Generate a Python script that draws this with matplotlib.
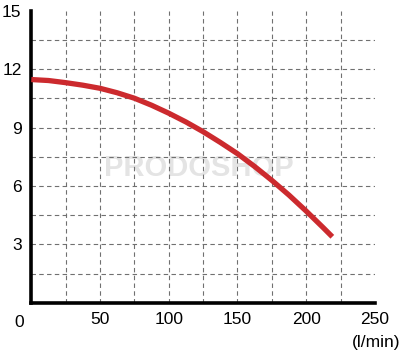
import matplotlib.pyplot as plt
import numpy as np

plt.rcParams['font.family'] = ['Liberation Sans', 'DejaVu Sans']

# pump curve
flow = [0, 12.5, 25, 37.5, 50, 62.5, 75, 87.5, 100, 112.5, 125, 137.5,
        150, 162.5, 175, 187.5, 200, 212.5, 219]
head = [11.47, 11.42, 11.31, 11.18, 11.02, 10.79, 10.51, 10.15, 9.74, 9.29,
        8.79, 8.24, 7.66, 7.0, 6.29, 5.53, 4.71, 3.85, 3.39]

x_ticks = [50, 100, 150, 200, 250]
y_ticks = [3, 6, 9, 12, 15]
x_grid = [25, 50, 75, 100, 125, 150, 175, 200, 225]
y_grid = [1.5, 3, 4.5, 6, 7.5, 9, 10.5, 12, 13.5]

fig = plt.figure(figsize=(4.13, 3.5), dpi=100)
ax = fig.add_axes([0.0758, 0.135, 0.832, 0.834])

# dashed grid
for gx in x_grid:
    ax.axvline(gx, color='#707070', lw=0.8, ls=(0, (4, 3)), zorder=1)
for gy in y_grid:
    ax.axhline(gy, color='#707070', lw=0.8, ls=(0, (4, 3)), zorder=1)

# watermark
ax.text(122, 6.9, 'PRODOSHOP', fontsize=21, fontweight='bold', color='#e4e4e4',
        ha='center', va='center', zorder=0)

ax.plot(flow, head, color='#cc2a2e', lw=3.8, solid_capstyle='butt', zorder=3)

ax.set_xlim(0, 250)
ax.set_ylim(0, 15)
ax.set_xticks(x_ticks)
ax.set_yticks(y_ticks)
ax.tick_params(length=0, labelsize=12.5, pad=7)

for s in ['top', 'right']:
    ax.spines[s].set_visible(False)
for s in ['left', 'bottom']:
    ax.spines[s].set_linewidth(2.6)
    ax.spines[s].set_color('black')

ax.text(-9, -1.0, '0', fontsize=12.5, ha='center', va='center')
ax.text(251, -2.05, '(l/min)', fontsize=12.5, ha='center', va='center')

fig.savefig('out.png', dpi=100)
